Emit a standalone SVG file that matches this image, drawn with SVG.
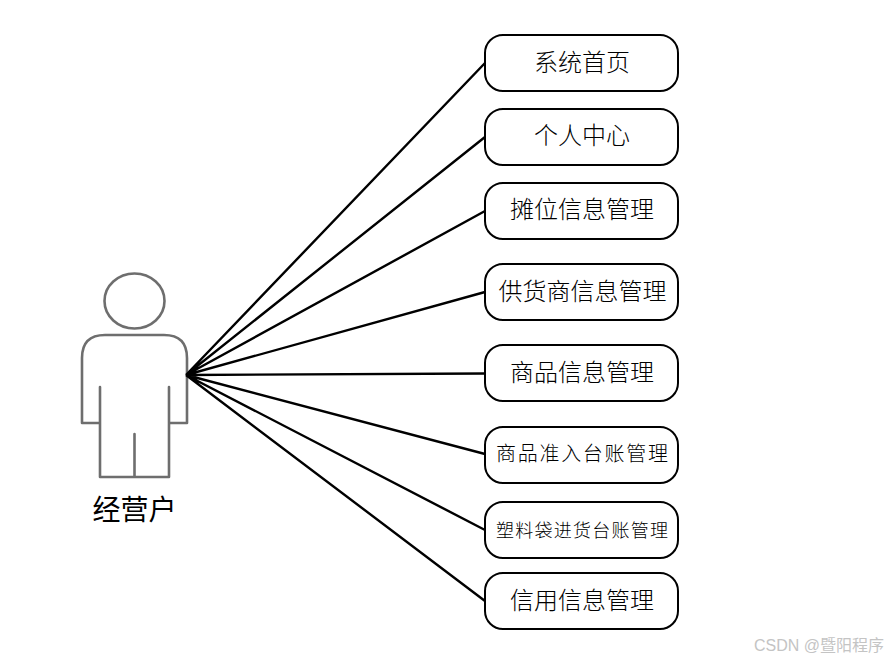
<svg xmlns="http://www.w3.org/2000/svg" width="887" height="661" viewBox="0 0 887 661">
<style>
.box{fill:#fff;stroke:#000;stroke-width:2}
.t{font-family:"Noto Sans CJK SC","Noto Sans",sans-serif;font-weight:300;fill:#000;text-anchor:middle;font-size:24px}
.c{stroke:#000;stroke-width:2.4;fill:none}
.a{stroke:#6e6e6e;stroke-width:2.6;fill:none;stroke-linejoin:round;stroke-linecap:round}
</style>
<rect width="887" height="661" fill="#fff"/>
<g id="actor">
<ellipse class="a" cx="134.500" cy="301" rx="30" ry="27.500"/>
<path class="a" d="M82 423V358Q82 335 105 335H164Q187 335 187 358V423H169M169 387V477H100V387M100 423H82M134.500 434V477"/>
<text x="134.500" y="520" style="font-family:'Noto Sans CJK SC',sans-serif;font-size:28px;text-anchor:middle;fill:#000">经营户</text>
</g>
<g id="connectors">
<path class="c" d="M186 375L485 63M186 375L485 137M186 375L485 211M186 375L485 292M186 375L485 373.500M186 375L485 454M186 375L485 530M186 375L485 601"/>
</g>
<g id="n1"><rect class="box" x="485" y="35" width="193" height="56" rx="18"/><text class="t" x="582" y="71">系统首页</text></g>
<g id="n2"><rect class="box" x="485" y="109" width="193" height="56" rx="18"/><text class="t" x="582" y="144">个人中心</text></g>
<g id="n3"><rect class="box" x="485" y="183" width="193" height="56" rx="18"/><text class="t" x="582" y="218">摊位信息管理</text></g>
<g id="n4"><rect class="box" x="485" y="264" width="193" height="56" rx="18"/><text class="t" x="582.500" y="300">供货商信息管理</text></g>
<g id="n5"><rect class="box" x="485" y="345" width="193" height="56" rx="18"/><text class="t" x="582" y="381">商品信息管理</text></g>
<g id="n6"><rect class="box" x="485" y="427" width="193" height="56" rx="18"/><text class="t" x="582" y="461" style="font-size:20px" textLength="172">商品准入台账管理</text></g>
<g id="n7"><rect class="box" x="485" y="502" width="193" height="56" rx="18"/><text class="t" x="582" y="537" style="font-size:18px" textLength="172">塑料袋进货台账管理</text></g>
<g id="n8"><rect class="box" x="485" y="573" width="193" height="56" rx="18"/><text class="t" x="582" y="609">信用信息管理</text></g>
<text x="884" y="651" style="font-family:'Liberation Sans','Noto Sans CJK SC',sans-serif;font-size:16px;text-anchor:end;fill:#c4c4c4">CSDN @暨阳程序</text>
</svg>
